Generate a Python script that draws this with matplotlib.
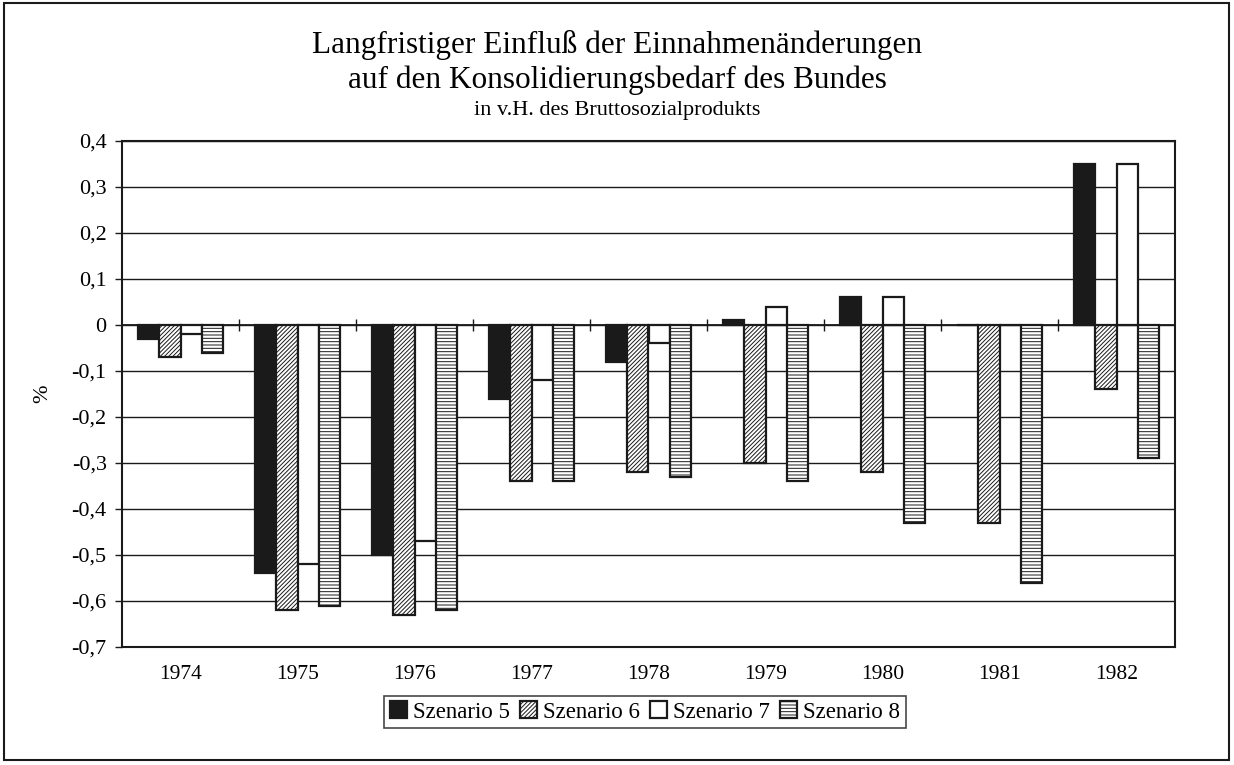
import matplotlib
matplotlib.use("Agg")
import matplotlib.pyplot as plt
import matplotlib.patches as mpatches
import numpy as np

plt.rcParams['font.family'] = ['Liberation Serif', 'DejaVu Serif']
plt.rcParams['hatch.linewidth'] = 0.7

# Daten (in v.H. des BSP)
jahre = ['1974', '1975', '1976', '1977', '1978', '1979', '1980', '1981', '1982']
szenario5 = [-0.03, -0.54, -0.50, -0.16, -0.08, 0.01, 0.06, 0.00, 0.35]
szenario6 = [-0.07, -0.62, -0.63, -0.34, -0.32, -0.30, -0.32, -0.43, -0.14]
szenario7 = [-0.02, -0.52, -0.47, -0.12, -0.04, 0.04, 0.06, 0.00, 0.35]
szenario8 = [-0.06, -0.61, -0.62, -0.34, -0.33, -0.34, -0.43, -0.56, -0.29]
namen = ['Szenario 5', 'Szenario 6', 'Szenario 7', 'Szenario 8']

fig = plt.figure(figsize=(12.34, 7.65), dpi=100)
ax = fig.add_axes([122 / 1234, 1 - 647 / 765, (1175 - 122) / 1234, (647 - 141) / 765])

x = np.arange(len(jahre))
w = 0.183
stile = [dict(facecolor='#1a1a1a', hatch=None),
         dict(facecolor='white', hatch='////////'),
         dict(facecolor='white', hatch=None),
         dict(facecolor='white', hatch='-----')]
reihen = [szenario5, szenario6, szenario7, szenario8]
for i, (werte, st) in enumerate(zip(reihen, stile)):
    ax.bar(x + (i - 1.5) * w, werte, width=w, edgecolor='#1a1a1a', linewidth=1.6,
           label=namen[i], zorder=3, **st)

ax.set_ylim(-0.7, 0.4)
ax.set_xlim(-0.5, len(jahre) - 0.5)
yt = np.round(np.arange(-0.7, 0.41, 0.1), 1)
ax.set_yticks(yt)
ax.set_yticklabels(['0' if abs(v) < 1e-9 else ('%g' % v).replace('.', ',') for v in yt],
                   fontsize=16)
ax.yaxis.grid(True, color='#1a1a1a', linewidth=1.0, zorder=1)
ax.set_axisbelow(True)
ax.axhline(0, color='#1a1a1a', linewidth=1.3, zorder=2)
ax.vlines(x[:-1] + 0.5, -0.013, 0.013, color='#1a1a1a', linewidth=1.0, zorder=2)
ax.set_xticks(x)
ax.set_xticklabels(jahre, fontsize=15.5)
ax.tick_params(axis='x', length=0, pad=13)
ax.tick_params(axis='y', length=5, width=1.0, pad=6, color='#1a1a1a')
for s in ax.spines.values():
    s.set_linewidth(1.5)
    s.set_color('#1a1a1a')
ax.set_ylabel('%', fontsize=16, labelpad=14)

fig.text(0.5, 1 - 45 / 765, 'Langfristiger Einfluß der Einnahmenänderungen',
         ha='center', va='center', fontsize=22.5)
fig.text(0.5, 1 - 80 / 765, 'auf den Konsolidierungsbedarf des Bundes',
         ha='center', va='center', fontsize=22.5)
fig.text(0.5, 1 - 111 / 765, 'in v.H. des Bruttosozialprodukts',
         ha='center', va='center', fontsize=16)

leg = fig.legend(loc='center', bbox_to_anchor=(645 / 1234, 1 - 712 / 765), ncol=4,
                 fontsize=16.5, frameon=True, fancybox=False, handlelength=0.75,
                 handleheight=0.75, handletextpad=0.25, columnspacing=0.45,
                 borderpad=0.25, edgecolor='#1a1a1a')
leg.get_frame().set_linewidth(1.2)

fig.patches.append(mpatches.Rectangle((0.003, 0.006), 0.993, 0.99, transform=fig.transFigure,
                                      fill=False, edgecolor='#1a1a1a', linewidth=1.5))

fig.savefig('out.png', dpi=100)
